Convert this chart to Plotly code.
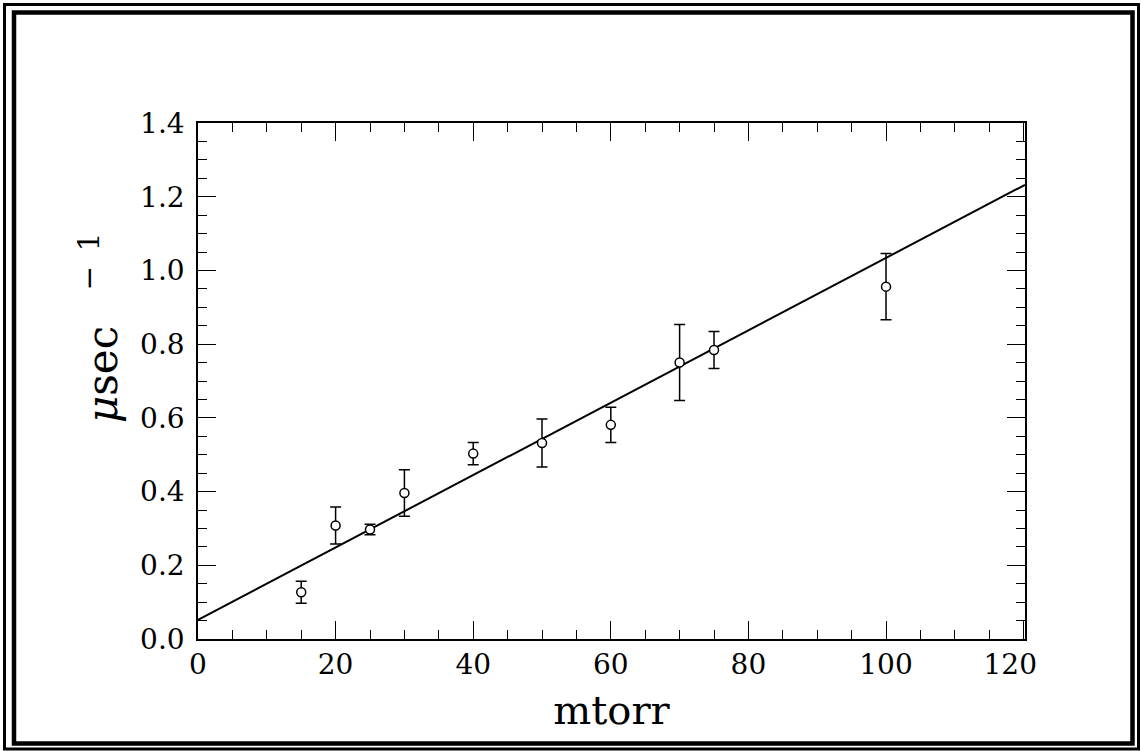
import plotly.graph_objects as go

# Measured decay rate vs. gas pressure, with a linear fit
pressure_mtorr = [15, 20, 25, 30, 40, 50, 60, 70, 75, 100]
rate_per_usec = [0.127, 0.308, 0.297, 0.396, 0.503, 0.532, 0.581, 0.750, 0.784, 0.956]
rate_err = [0.030, 0.050, 0.014, 0.063, 0.030, 0.065, 0.048, 0.103, 0.050, 0.090]

fit_intercept = 0.052
fit_slope = 0.00982

x_range = [0, 120.2]
y_range = [0, 1.4]
x_tickvals = [0, 20, 40, 60, 80, 100, 120]
x_ticktext = ["0", "20", "40", "60", "80", "100", "120\u00a0\u00a0\u00a0"]
y_tickvals = [0.0, 0.2, 0.4, 0.6, 0.8, 1.0, 1.2, 1.4]
y_ticktext = ["0.0", "0.2", "0.4", "0.6", "0.8", "1.0", "1.2", "1.4"]

W, H = 1141, 751
L, R, T, B = 198, 116, 123, 112
FONT = "DejaVu Serif"

fit_x = list(x_range)
fit_y = [fit_intercept + fit_slope * v for v in fit_x]

fig = go.Figure()
fig.add_trace(go.Scatter(
    x=fit_x, y=fit_y, mode="lines",
    line=dict(color="black", width=2),
    showlegend=False, hoverinfo="skip",
))
fig.add_trace(go.Scatter(
    x=pressure_mtorr, y=rate_per_usec, mode="markers",
    marker=dict(symbol="circle", size=9, color="white",
                line=dict(color="black", width=1.5)),
    error_y=dict(type="data", array=rate_err, visible=True,
                 color="black", thickness=1.5, width=5.5),
    showlegend=False,
))

axis_common = dict(
    showgrid=False, zeroline=False,
    showline=True, linecolor="black", linewidth=1.5,
    mirror="allticks", ticks="inside", ticklen=18, tickwidth=1.3,
    tickcolor="black",
    tickfont=dict(family=FONT, size=28, color="black"),
)

fig.update_xaxes(
    range=x_range, tickmode="array", tickvals=x_tickvals, ticktext=x_ticktext,
    minor=dict(dtick=5, tick0=0, ticks="inside", ticklen=9, tickwidth=1.3,
               tickcolor="black", showgrid=False),
    title=dict(text="mtorr", font=dict(family=FONT, size=40, color="black"),
               standoff=16),
    **axis_common,
)
fig.update_yaxes(
    range=y_range, tickmode="array", tickvals=y_tickvals, ticktext=y_ticktext,
    minor=dict(dtick=0.05, tick0=0, ticks="inside", ticklen=9, tickwidth=1.3,
               tickcolor="black", showgrid=False),
    ticklabelstandoff=6,
    **axis_common,
)


def px_x(p):
    return (p - L) / (W - L - R)


def px_y(p):
    return (H - B - p) / (H - T - B)


# Rotated y-axis label, placed beside the tick labels
fig.add_annotation(
    text="<i>μ</i>sec<sup>\u2003\u2009−\u20021</sup>",
    textangle=-90, showarrow=False,
    xref="paper", yref="paper",
    x=px_x(99), y=px_y(328), xanchor="center", yanchor="middle",
    font=dict(family=FONT, size=42, color="black"),
)

# Double frame around the whole figure
frames = [
    (4.5, 4.5, 1138.5, 749.0, 3),
    (14.0, 12.5, 1132.5, 743.5, 4.5),
]
shapes = []
for x0, y0, x1, y1, w in frames:
    shapes.append(dict(
        type="rect", xref="paper", yref="paper",
        x0=px_x(x0), x1=px_x(x1), y0=px_y(y1), y1=px_y(y0),
        line=dict(color="black", width=w), fillcolor="rgba(0,0,0,0)",
        layer="above",
    ))

fig.update_layout(
    width=W, height=H,
    margin=dict(l=L, r=R, t=T, b=B),
    paper_bgcolor="white", plot_bgcolor="white",
    shapes=shapes,
)

fig.write_html("out.html")
